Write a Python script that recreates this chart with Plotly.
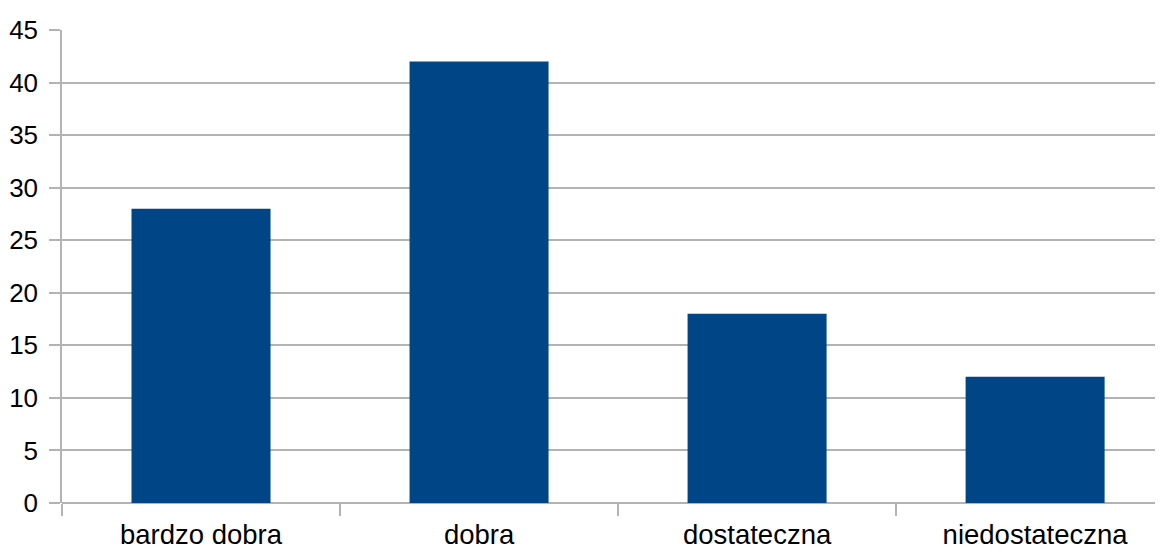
import plotly.graph_objects as go

categories = ["bardzo dobra", "dobra", "dostateczna", "niedostateczna"]
values = [28, 42, 18, 12]
y_ticks = [0, 5, 10, 15, 20, 25, 30, 35, 40, 45]

fig = go.Figure(go.Bar(
    x=categories, y=values,
    marker=dict(color="#004586", line=dict(width=0)),
    width=0.5,
))

grid = "#b3b3b3"
fig.update_layout(
    width=1155, height=540,
    margin=dict(l=54, r=0, t=22, b=45),
    paper_bgcolor="white", plot_bgcolor="white",
    font=dict(family="Liberation Sans, Arial, sans-serif", size=26, color="#000000"),
    showlegend=False,
    bargap=0.5,
)
fig.update_xaxes(
    range=[-0.5, 3.46],
    showgrid=False,
    showline=False,
    ticks="outside", tickson="boundaries", ticklen=12, tickcolor=grid, tickwidth=1.5,
    tickfont=dict(size=27.5),
    ticklabelstandoff=12,
    automargin=False,
)
fig.update_yaxes(
    range=[0, 45],
    tickvals=y_ticks,
    showgrid=True, gridcolor=grid, gridwidth=1.5,
    showline=True, linecolor=grid, linewidth=1.5,
    ticks="outside", ticklen=11, tickcolor=grid, tickwidth=1.5,
    zeroline=True, zerolinecolor=grid, zerolinewidth=1.5,
    tickfont=dict(size=26),
    ticklabelstandoff=6,
    automargin=False,
)

fig.write_html("out.html")
